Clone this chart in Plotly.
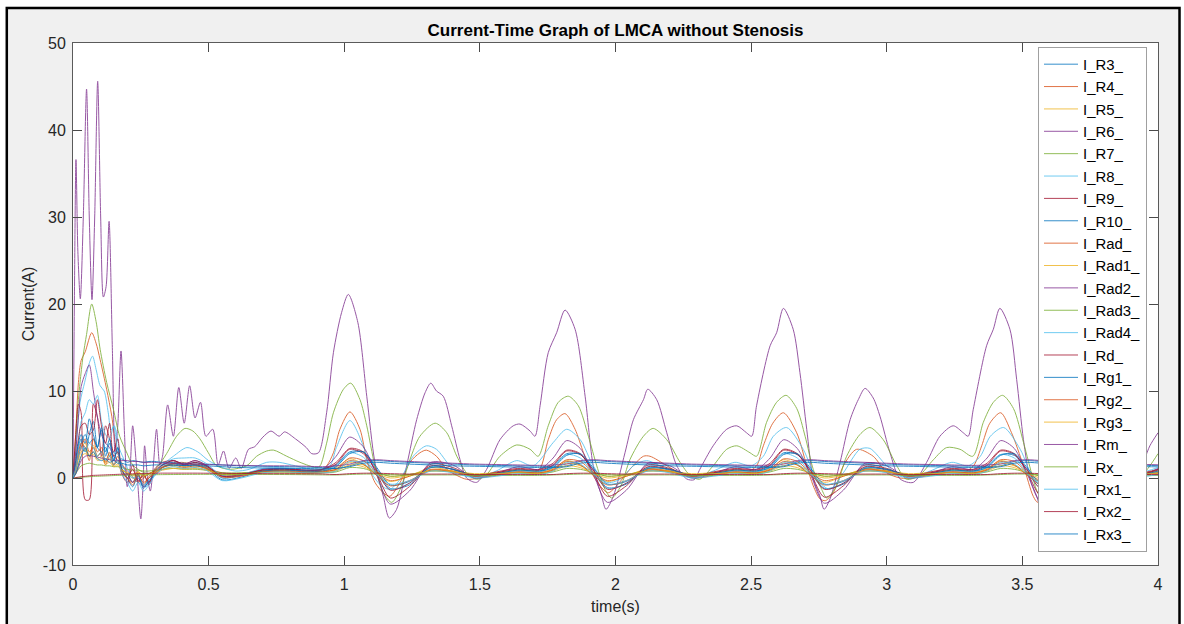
import plotly.graph_objects as go

# ---------------- data ----------------
SERIES_NAMES = ["I_R3_", "I_R4_", "I_R5_", "I_R6_", "I_R7_", "I_R8_", "I_R9_", "I_R10_",
                "I_Rad_", "I_Rad1_", "I_Rad2_", "I_Rad3_", "I_Rad4_", "I_Rd_", "I_Rg1_",
                "I_Rg2_", "I_Rg3_", "I_Rm_", "I_Rx_", "I_Rx1_", "I_Rx2_", "I_Rx3_"]

X_TICKS = [0, 0.5, 1, 1.5, 2, 2.5, 3, 3.5, 4]
X_TICK_TEXT = ["0", "0.5", "1", "1.5", "2", "2.5", "3", "3.5", "4"]
Y_TICKS = [-10, 0, 10, 20, 30, 40, 50]
Y_TICK_TEXT = ["-10", "0", "10", "20", "30", "40", "50"]

# large-amplitude series: (time s, current A)
R6_POINTS = [(0, 0), (0.005, 20), (0.011, 36.6), (0.018, 26), (0.027, 20.6), (0.038, 30), (0.05, 44.7),
             (0.06, 30), (0.07, 20.5), (0.08, 30), (0.091, 45.6), (0.102, 30), (0.112, 20.8), (0.122, 22),
             (0.133, 29.5), (0.145, 15), (0.155, 3), (0.165, 6), (0.177, 14.6), (0.19, 5), (0.2, -1),
             (0.21, 1), (0.22, 6), (0.235, 1), (0.25, -4.7), (0.258, -1), (0.264, 3.7), (0.275, 0),
             (0.285, -1.5), (0.295, 1), (0.308, 5.6), (0.32, 1.5), (0.33, 2.5), (0.349, 8.4), (0.37, 4.8),
             (0.39, 10.4), (0.41, 6.3), (0.43, 10.6), (0.45, 6.9), (0.47, 8.7), (0.49, 4.8), (0.515, 5.6),
             (0.535, 1.5), (0.555, 3.1), (0.575, 1.1), (0.6, 2.3), (0.62, 1.1), (0.647, 3.3), (0.67, 3.6),
             (0.7, 4.7), (0.73, 5.4), (0.76, 4.8), (0.78, 5.3), (0.82, 4.5), (0.86, 3.5), (0.88, 2.8),
             (0.905, 2.9), (0.935, 7.5), (0.96, 14.4), (0.99, 19.0), (1.015, 21.1), (1.05, 17.9),
             (1.083, 9.4), (1.113, 1.8), (1.144, -2.1), (1.166, -4.6), (1.193, -3.6), (1.23, 1.4),
             (1.267, 6.7), (1.298, 9.8), (1.319, 10.9), (1.34, 10.0), (1.365, 9.4), (1.396, 6.0),
             (1.427, 2.1), (1.451, 0), (1.488, -0.5), (1.525, 1.0), (1.574, 4.4), (1.623, 6.0),
             (1.648, 6.2), (1.685, 5.4), (1.703, 4.8), (1.722, 8.3), (1.752, 14.4), (1.783, 16.7),
             (1.814, 19.3), (1.851, 17.1), (1.888, 9.4), (1.918, 1.4), (1.949, -2.1), (1.965, -3.6),
             (1.992, -2.1), (2.035, 2.9), (2.066, 6.7), (2.103, 9.0), (2.119, 10.2), (2.152, 9.0),
             (2.189, 5.2), (2.226, 1.4), (2.262, -0.1), (2.29, -0.2), (2.311, 1.0), (2.36, 3.7),
             (2.41, 5.6), (2.447, 6.0), (2.483, 5.2), (2.502, 4.8), (2.52, 8.3), (2.57, 15.2),
             (2.594, 16.7), (2.619, 19.5), (2.655, 17.1), (2.68, 12.1), (2.705, 5.6), (2.729, -0.1),
             (2.754, -2.1), (2.769, -3.6), (2.791, -2.4), (2.828, 1.8), (2.865, 6.7), (2.895, 9.0),
             (2.92, 10.3), (2.95, 9.2), (2.975, 7.1), (3.012, 2.9), (3.049, -0.1), (3.098, -0.5),
             (3.147, 1.8), (3.196, 4.8), (3.245, 6.0), (3.282, 5.2), (3.3, 4.8), (3.319, 7.9),
             (3.368, 15.2), (3.393, 17.1), (3.417, 19.5), (3.454, 17.1), (3.479, 11.3), (3.504, 4.4),
             (3.528, -0.1), (3.553, -2.1), (3.57, -3.6), (3.6, -2.2), (3.64, 2.0), (3.68, 6.5),
             (3.72, 10.0), (3.76, 8.0), (3.8, 3.0), (3.85, -0.3), (3.9, -0.3), (3.95, 2.2),
             (3.97, 3.7), (4.0, 5.2)]

R7_POINTS = [(0, 0), (0.01, 4), (0.02, 9), (0.026, 11), (0.037, 14), (0.05, 16.5), (0.069, 20),
             (0.085, 18), (0.1, 14.8), (0.124, 11), (0.149, 7.9), (0.172, 4.8), (0.197, 3.0),
             (0.22, 1.5), (0.25, 0.8), (0.28, 0.5), (0.31, 1.2), (0.345, 2.8), (0.382, 4.8),
             (0.413, 5.7), (0.442, 5.4), (0.468, 4.5), (0.499, 2.9), (0.53, 1.4), (0.58, 1.0),
             (0.64, 1.4), (0.677, 2.5), (0.714, 3.1), (0.74, 3.2), (0.788, 2.5), (0.837, 1.8),
             (0.898, 1.2), (0.911, 1.4), (0.935, 4.0), (0.96, 7.5), (0.997, 10.2), (1.024, 10.9),
             (1.058, 9.0), (1.083, 6.0), (1.113, 1.4), (1.144, -1.7), (1.175, -2.8), (1.206, -1.3),
             (1.242, 2.1), (1.279, 4.8), (1.335, 6.3), (1.378, 5.2), (1.415, 2.5), (1.451, 0.6),
             (1.488, -0.15), (1.525, 0.4), (1.574, 2.5), (1.636, 3.8), (1.685, 3.3), (1.715, 2.5),
             (1.752, 6.0), (1.789, 8.7), (1.826, 9.4), (1.863, 8.3), (1.9, 4.8), (1.931, 1.4),
             (1.961, -1.3), (1.986, -2.3), (2.02, -0.9), (2.053, 2.1), (2.103, 4.8), (2.139, 5.7),
             (2.189, 4.4), (2.238, 1.8), (2.275, 0.3), (2.31, -0.15), (2.36, 1.4), (2.41, 3.3),
             (2.447, 3.7), (2.496, 2.9), (2.52, 2.5), (2.557, 6.4), (2.594, 8.7), (2.629, 9.5),
             (2.668, 8.0), (2.699, 4.8), (2.729, 1.0), (2.76, -1.3), (2.779, -2.3), (2.815, -0.9),
             (2.852, 2.5), (2.901, 5.0), (2.938, 5.8), (2.987, 4.4), (3.037, 1.4), (3.073, -0.15),
             (3.12, 0.3), (3.172, 2.1), (3.221, 3.5), (3.27, 3.3), (3.317, 2.5), (3.356, 6.4),
             (3.393, 8.7), (3.427, 9.5), (3.467, 8.0), (3.504, 4.1), (3.54, -0.15), (3.557, -1.7),
             (3.58, -2.3), (3.62, -0.5), (3.66, 2.5), (3.71, 5.0), (3.75, 5.7), (3.8, 4.3),
             (3.85, 1.4), (3.89, -0.1), (3.94, 0.3), (3.97, 1.4), (4.0, 2.8)]

R4_POINTS = [(0, 0), (0.01, 5), (0.02, 11), (0.03, 13.5), (0.045, 14.5), (0.069, 16.7), (0.085, 15.5),
             (0.1, 13.6), (0.124, 10.2), (0.143, 7.1), (0.16, 3.3), (0.185, 1.4), (0.21, 0.5),
             (0.24, -0.5), (0.27, 0.3), (0.3, 0.8), (0.35, 1.5), (0.4, 1.8), (0.45, 1.5), (0.5, 1.0),
             (0.55, 0.6), (0.6, 0.5), (0.7, 0.8), (0.8, 0.9), (0.9, 0.7), (0.935, 1.4), (0.96, 2.9),
             (0.984, 5.6), (1.021, 7.6), (1.058, 5.6), (1.083, 2.1), (1.113, -0.5), (1.144, -1.7),
             (1.168, -2.1), (1.206, -0.5), (1.242, 1.8), (1.279, 2.9), (1.303, 3.2), (1.34, 2.5),
             (1.378, 1.0), (1.415, 0.3), (1.451, -0.15), (1.5, 0.0), (1.56, 0.3), (1.62, 0.6),
             (1.68, 0.6), (1.72, 1.0), (1.752, 4.4), (1.783, 6.7), (1.814, 7.4), (1.851, 5.6),
             (1.882, 2.9), (1.912, 0.6), (1.943, -0.9), (1.973, -1.7), (2.004, -0.9), (2.053, 1.0),
             (2.103, 2.5), (2.127, 2.5), (2.19, 1.4), (2.25, 0.3), (2.3, 0.0), (2.36, 0.3), (2.42, 0.6),
             (2.48, 0.6), (2.52, 1.4), (2.545, 3.7), (2.58, 6.3), (2.619, 7.5), (2.668, 5.2),
             (2.705, 1.4), (2.729, -0.9), (2.754, -2.4), (2.774, -2.6), (2.803, -1.7), (2.84, 1.4),
             (2.889, 3.3), (2.95, 2.5), (3.0, 0.6), (3.05, 0.0), (3.1, 0.0), (3.16, 0.3), (3.22, 0.6),
             (3.28, 0.6), (3.32, 1.4), (3.35, 3.7), (3.38, 6.3), (3.42, 7.5), (3.46, 5.2), (3.504, 1.4),
             (3.54, -2.1), (3.557, -2.8), (3.6, -1.5), (3.64, 1.4), (3.69, 3.3), (3.75, 2.5),
             (3.8, 0.6), (3.88, 0.0), (3.95, 0.5), (4.0, 1.0)]

R8_POINTS = [(0, 0), (0.01, 3), (0.026, 8.7), (0.043, 11), (0.06, 13.2), (0.072, 14.0), (0.085, 12.5),
             (0.1, 10.6), (0.115, 10.0), (0.13, 7.5), (0.14, 5.5), (0.152, 6.0), (0.172, 3.3),
             (0.19, 2.0), (0.21, 0.5), (0.24, -0.5), (0.27, -1.0), (0.3, 0.5), (0.33, 1.5), (0.37, 2.5),
             (0.42, 3.5), (0.46, 3.0), (0.5, 2.0), (0.55, 1.2), (0.6, 0.8), (0.65, 1.0), (0.714, 1.8),
             (0.76, 1.8), (0.82, 1.4), (0.9, 0.9), (0.947, 1.4), (0.971, 3.5), (1.021, 6.6), (1.07, 3.7),
             (1.1, 0.6), (1.137, -0.9), (1.168, -1.3), (1.206, -0.15), (1.254, 2.5), (1.303, 3.7),
             (1.34, 3.3), (1.39, 1.4), (1.44, 0.3), (1.5, 0.2), (1.56, 0.8), (1.636, 2.0), (1.697, 1.4),
             (1.771, 4.1), (1.82, 5.6), (1.87, 4.4), (1.918, 1.4), (1.967, -0.5), (2.017, -0.15),
             (2.066, 1.4), (2.115, 2.0), (2.189, 1.0), (2.25, 0.3), (2.3, 0.2), (2.36, 0.8),
             (2.44, 1.8), (2.5, 1.4), (2.545, 2.5), (2.582, 4.8), (2.631, 5.8), (2.692, 3.3),
             (2.742, -0.15), (2.791, -1.3), (2.84, 0.6), (2.901, 3.3), (2.938, 3.4), (3.0, 1.4),
             (3.049, 0.3), (3.1, 0.2), (3.16, 0.8), (3.24, 1.8), (3.3, 1.4), (3.345, 2.5),
             (3.382, 4.8), (3.431, 5.8), (3.492, 3.3), (3.542, -0.15), (3.59, -1.3), (3.64, 0.6),
             (3.7, 3.3), (3.74, 3.4), (3.8, 1.4), (3.85, 0.3), (3.9, 0.2), (3.96, 0.8), (4.0, 1.2)]

# shared time grid for the smaller series
T_SMALL = [0, 0.01, 0.02, 0.03, 0.045, 0.06, 0.075, 0.09, 0.105, 0.12, 0.135, 0.15, 0.165, 0.18,
           0.20, 0.22, 0.24, 0.26, 0.28, 0.30, 0.33, 0.37, 0.41, 0.45, 0.49, 0.55, 0.62, 0.70,
           0.78, 0.86, 0.92,
           0.97, 1.02, 1.07, 1.12, 1.17, 1.24, 1.32, 1.40, 1.48, 1.56, 1.64, 1.72,
           1.77, 1.82, 1.87, 1.92, 1.97, 2.04, 2.12, 2.20, 2.28, 2.36, 2.44, 2.52,
           2.57, 2.62, 2.67, 2.72, 2.77, 2.84, 2.92, 3.00, 3.08, 3.16, 3.24, 3.32,
           3.37, 3.42, 3.47, 3.52, 3.57, 3.64, 3.72, 3.80, 3.88, 3.96, 4.00]

V_R3 = [0, 1.5, 3.5, 4.5, 3.0, 5.0, 6.5, 3.5, 5.5, 2.5, 4.0, 2.0, 3.5, 1.0, 0.5, -0.5, 0.5, -1.0, 0.0,
        0.5, 1.5, 1.8, 1.5, 1.8, 1.4, 0.0, 0.3, 0.9, 1.0, 0.8, 0.9,
        1.5, 3.0, 3.0, 1.0, -1.2, -0.8, 1.3, 1.0, 0.2, 0.5, 0.9, 0.8,
        1.4, 2.8, 2.7, 0.9, -1.1, -0.7, 1.2, 0.9, 0.2, 0.5, 0.9, 0.8,
        1.4, 2.9, 2.7, 0.9, -1.2, -0.7, 1.2, 0.9, 0.2, 0.5, 0.9, 0.8,
        1.4, 2.7, 2.6, 0.9, -1.0, -0.7, 1.2, 0.9, 0.2, 0.5, 0.7]
V_R5 = [0, 1.0, 2.5, 3.5, 4.0, 2.5, 3.8, 2.5, 3.0, 2.0, 2.8, 1.5, 2.0, 1.0, 0.5, 0.0, 0.8, 0.0, 0.5,
        0.8, 1.2, 1.5, 1.3, 1.4, 1.2, 0.4, 0.5, 0.8, 0.8, 0.7, 0.8,
        1.2, 2.2, 1.6, 0.3, -0.4, 0.2, 1.2, 0.8, 0.3, 0.6, 0.9, 0.7,
        1.1, 2.0, 1.5, 0.3, -0.4, 0.2, 1.1, 0.8, 0.3, 0.6, 0.9, 0.7,
        1.1, 2.1, 1.5, 0.3, -0.5, 0.2, 1.1, 0.8, 0.3, 0.6, 0.9, 0.7,
        1.1, 2.0, 1.5, 0.3, -0.4, 0.2, 1.1, 0.8, 0.3, 0.6, 0.8]
V_R9 = [0, 5.0, 8.5, 7.5, -2.5, -2.5, 8.5, 7.0, 2.5, 6.0, 4.5, 3.0, 4.5, 0.5, -0.5, 1.5, -0.5, 0.5,
        -0.8, 1.0, 1.8, 2.0, 1.6, 2.0, 1.5, 0.3, 0.4, 1.0, 1.1, 0.9, 1.0,
        1.8, 3.4, 3.0, 0.5, -2.3, -1.0, 1.6, 1.2, 0.2, 0.7, 1.1, 1.0,
        1.7, 3.2, 2.8, 0.5, -2.1, -0.9, 1.5, 1.1, 0.2, 0.7, 1.1, 1.0,
        1.7, 3.3, 2.8, 0.5, -2.2, -0.9, 1.5, 1.1, 0.2, 0.7, 1.1, 1.0,
        1.7, 3.2, 2.8, 0.5, -2.1, -0.9, 1.5, 1.1, 0.2, 0.7, 1.0]
V_R10 = [0, 1.0, 2.5, 4.0, 5.0, 4.0, 4.5, 3.5, 3.0, 3.5, 2.5, 3.0, 2.0, 2.2, 1.8, 2.0, 1.9, 1.8, 1.9,
         1.9, 1.8, 1.7, 1.7, 1.6, 1.6, 1.5, 1.4, 1.35, 1.3, 1.25, 1.2,
         1.1, 1.4, 1.9, 2.0, 1.9, 1.8, 1.7, 1.6, 1.5, 1.45, 1.4, 1.35,
         1.3, 1.4, 1.9, 2.0, 1.9, 1.8, 1.7, 1.6, 1.5, 1.45, 1.4, 1.35,
         1.3, 1.4, 1.85, 2.0, 1.9, 1.8, 1.7, 1.6, 1.5, 1.45, 1.4, 1.35,
         1.3, 1.4, 1.9, 2.0, 1.9, 1.8, 1.7, 1.6, 1.5, 1.45, 1.42]
V_RAD = [0, 1.5, 3.0, 4.0, 3.5, 2.0, 4.5, 3.0, 3.5, 1.8, 3.0, 1.5, 2.5, 0.8, 0.0, -0.5, 0.5, -0.8, 0.2,
         0.6, 1.3, 1.7, 1.4, 1.6, 1.3, 0.2, 0.3, 0.8, 0.9, 0.7, 0.8,
         1.0, 2.3, 2.0, 0.6, -0.3, 0.2, 1.0, 0.8, 0.4, 0.5, 0.7, 0.6,
         1.0, 2.1, 1.9, 0.6, -0.3, 0.2, 1.0, 0.8, 0.4, 0.5, 0.7, 0.6,
         1.0, 2.2, 1.9, 0.6, -0.3, 0.2, 1.0, 0.8, 0.4, 0.5, 0.7, 0.6,
         1.0, 2.1, 1.9, 0.6, -0.3, 0.2, 1.0, 0.8, 0.4, 0.5, 0.6]
V_RAD1 = [0, 0.8, 2.0, 3.0, 3.2, 2.5, 3.0, 2.2, 2.5, 1.8, 2.2, 1.4, 1.6, 1.0, 0.6, 0.3, 0.7, 0.2, 0.5,
          0.7, 1.0, 1.3, 1.1, 1.2, 1.0, 0.4, 0.5, 0.7, 0.7, 0.6, 0.7,
          0.9, 1.8, 1.5, 0.7, 0.2, 0.4, 0.9, 0.8, 0.5, 0.6, 0.7, 0.6,
          0.9, 1.7, 1.4, 0.7, 0.2, 0.4, 0.9, 0.8, 0.5, 0.6, 0.7, 0.6,
          0.9, 1.7, 1.5, 0.7, 0.2, 0.4, 0.9, 0.8, 0.5, 0.6, 0.7, 0.6,
          0.9, 1.7, 1.4, 0.7, 0.2, 0.4, 0.9, 0.8, 0.5, 0.6, 0.65]
V_RAD2 = [0, 3.0, 7.0, 10.5, 12.0, 13.0, 10.0, 7.0, 5.0, 4.0, 3.5, 2.5, 2.0, 1.5, 0.5, -0.5, 0.0, -1.0,
          -0.5, 0.5, 1.5, 2.0, 1.6, 2.0, 1.5, 0.2, 0.3, 1.0, 1.1, 0.9, 1.0,
          2.5, 4.7, 3.6, 0.3, -3.0, -1.5, 1.8, 1.5, 0.0, 0.5, 1.3, 1.0,
          2.3, 4.3, 3.4, 0.3, -2.8, -1.4, 1.7, 1.4, 0.0, 0.5, 1.3, 1.0,
          2.3, 4.4, 3.4, 0.3, -2.9, -1.4, 1.7, 1.4, 0.0, 0.5, 1.3, 1.0,
          2.3, 4.3, 3.4, 0.3, -2.8, -1.4, 1.7, 1.4, 0.0, 0.5, 1.1]
V_RAD3 = [0, 0.5, 1.0, 1.4, 1.6, 1.7, 1.6, 1.5, 1.5, 1.4, 1.4, 1.3, 1.3, 1.2, 1.0, 0.9, 0.9, 0.8, 0.8,
          0.9, 1.0, 1.1, 1.0, 1.0, 0.9, 0.6, 0.6, 0.7, 0.7, 0.6, 0.6,
          0.7, 1.2, 1.1, 0.6, 0.2, 0.4, 0.8, 0.7, 0.4, 0.5, 0.6, 0.5,
          0.7, 1.1, 1.0, 0.6, 0.2, 0.4, 0.8, 0.7, 0.4, 0.5, 0.6, 0.5,
          0.7, 1.1, 1.0, 0.6, 0.2, 0.4, 0.8, 0.7, 0.4, 0.5, 0.6, 0.5,
          0.7, 1.1, 1.0, 0.6, 0.2, 0.4, 0.8, 0.7, 0.4, 0.5, 0.55]
V_RAD4 = [0, 1.5, 4.0, 6.5, 7.5, 9.0, 8.5, 9.5, 6.5, 5.0, 4.5, 6.0, 3.0, 1.5, 0.5, 0.0, 0.2, -0.8,
          -0.3, 0.5, 1.5, 2.2, 2.3, 2.3, 1.7, 0.3, 0.4, 1.1, 1.2, 1.0, 1.0,
          1.4, 2.9, 2.4, 0.5, -1.3, -0.6, 1.3, 1.0, 0.1, 0.4, 0.8, 0.7,
          1.3, 2.7, 2.3, 0.5, -1.2, -0.6, 1.2, 1.0, 0.1, 0.4, 0.8, 0.7,
          1.3, 2.8, 2.3, 0.5, -1.2, -0.6, 1.2, 1.0, 0.1, 0.4, 0.8, 0.7,
          1.3, 2.7, 2.3, 0.5, -1.2, -0.6, 1.2, 1.0, 0.1, 0.4, 0.7]
V_RD = [0, 2.0, 4.5, 6.0, 6.3, 5.0, 5.5, 9.0, 6.0, 4.0, 6.3, 2.5, 3.0, 1.0, 0.0, 1.0, -0.3, 0.3, -0.5,
        0.8, 1.5, 2.0, 1.5, 1.8, 1.4, 0.2, 0.4, 0.9, 1.0, 0.9, 1.0,
        1.6, 3.3, 2.8, 0.8, -1.4, -0.6, 1.4, 1.0, 0.3, 0.6, 1.0, 0.9,
        1.5, 3.1, 2.7, 0.8, -1.3, -0.6, 1.3, 1.0, 0.3, 0.6, 1.0, 0.9,
        1.5, 3.2, 2.7, 0.8, -1.3, -0.6, 1.3, 1.0, 0.3, 0.6, 1.0, 0.9,
        1.5, 3.1, 2.7, 0.8, -1.3, -0.6, 1.3, 1.0, 0.3, 0.6, 0.9]
V_RG1 = [0, 2.0, 4.0, 5.0, 4.0, 6.8, 5.0, 3.5, 5.8, 3.0, 4.5, 2.0, 3.5, 1.0, 0.0, -1.0, 0.3, -1.2,
         -0.3, 0.3, 1.2, 1.6, 1.4, 1.5, 1.2, -0.2, 0.1, 0.8, 0.9, 0.8, 0.8,
         1.3, 2.8, 3.0, 1.2, -0.8, -0.4, 1.2, 1.0, 0.3, 0.5, 0.9, 0.8,
         1.2, 2.6, 2.8, 1.1, -0.7, -0.4, 1.1, 1.0, 0.3, 0.5, 0.9, 0.8,
         1.2, 2.7, 2.8, 1.1, -0.7, -0.4, 1.1, 1.0, 0.3, 0.5, 0.9, 0.8,
         1.2, 2.6, 2.8, 1.1, -0.7, -0.4, 1.1, 1.0, 0.3, 0.5, 0.8]
V_RG2 = [0, 1.0, 2.5, 3.5, 4.5, 3.0, 3.5, 2.5, 3.0, 1.5, 2.5, 1.5, 2.0, 0.5, 0.0, -0.8, 0.3, -0.5, 0.0,
         0.5, 1.2, 1.5, 1.2, 1.4, 1.1, 0.1, 0.2, 0.7, 0.8, 0.6, 0.7,
         1.0, 2.0, 1.6, 0.3, -0.9, -0.3, 0.9, 0.7, 0.2, 0.4, 0.7, 0.6,
         0.9, 1.9, 1.5, 0.3, -0.8, -0.3, 0.9, 0.7, 0.2, 0.4, 0.7, 0.6,
         0.9, 1.9, 1.5, 0.3, -0.8, -0.3, 0.9, 0.7, 0.2, 0.4, 0.7, 0.6,
         0.9, 1.9, 1.5, 0.3, -0.8, -0.3, 0.9, 0.7, 0.2, 0.4, 0.6]
V_RG3 = [0, 0.5, 1.5, 2.5, 2.8, 2.5, 2.7, 2.0, 2.2, 1.6, 1.8, 1.3, 1.4, 0.9, 0.6, 0.4, 0.6, 0.3, 0.5,
         0.6, 0.9, 1.1, 1.0, 1.1, 0.9, 0.4, 0.4, 0.6, 0.6, 0.5, 0.6,
         0.8, 1.5, 1.3, 0.5, 0.0, 0.3, 0.8, 0.7, 0.4, 0.5, 0.6, 0.5,
         0.8, 1.4, 1.2, 0.5, 0.0, 0.3, 0.8, 0.7, 0.4, 0.5, 0.6, 0.5,
         0.8, 1.4, 1.2, 0.5, 0.0, 0.3, 0.8, 0.7, 0.4, 0.5, 0.6, 0.5,
         0.8, 1.4, 1.2, 0.5, 0.0, 0.3, 0.8, 0.7, 0.4, 0.5, 0.55]
V_RM = [0, 0.5, 1.2, 2.0, 2.5, 2.6, 2.5, 2.4, 2.3, 2.2, 2.1, 2.0, 2.0, 2.0, 2.0, 1.9, 1.9, 1.8, 1.8,
        1.8, 1.7, 1.7, 1.6, 1.6, 1.55, 1.5, 1.45, 1.4, 1.4, 1.35, 1.3,
        1.4, 1.6, 2.0, 2.1, 2.0, 1.9, 1.8, 1.7, 1.6, 1.55, 1.5, 1.45,
        1.5, 1.6, 2.0, 2.1, 2.0, 1.9, 1.8, 1.7, 1.6, 1.55, 1.5, 1.45,
        1.5, 1.6, 2.0, 2.1, 2.0, 1.9, 1.8, 1.7, 1.6, 1.55, 1.5, 1.45,
        1.5, 1.6, 2.0, 2.1, 2.0, 1.9, 1.8, 1.7, 1.6, 1.55, 1.52]
V_RX = [0, 0.02, 0.05, 0.08, 0.12, 0.15, 0.18, 0.2, 0.22, 0.24, 0.26, 0.28, 0.3, 0.31, 0.33, 0.34, 0.35,
        0.36, 0.37, 0.38, 0.39, 0.4, 0.41, 0.42, 0.42, 0.42, 0.42, 0.41, 0.4, 0.38, 0.36,
        0.35, 0.4, 0.45, 0.45, 0.4, 0.35, 0.35, 0.35, 0.3, 0.3, 0.3, 0.3,
        0.35, 0.4, 0.45, 0.45, 0.4, 0.35, 0.35, 0.35, 0.3, 0.3, 0.3, 0.3,
        0.35, 0.4, 0.45, 0.45, 0.4, 0.35, 0.35, 0.35, 0.3, 0.3, 0.3, 0.3,
        0.35, 0.4, 0.45, 0.45, 0.4, 0.35, 0.35, 0.35, 0.3, 0.3, 0.3]
V_RX1 = [0, 1.0, 2.5, 3.5, 3.0, 4.0, 3.5, 2.5, 3.0, 2.0, 2.5, 1.5, 2.0, 0.5, -0.5, -1.5, -0.5, -1.5,
         -0.8, 0.2, 1.0, 1.3, 1.1, 1.2, 0.9, -0.3, 0.0, 0.6, 0.7, 0.6, 0.6,
         0.8, 1.9, 1.7, 0.4, -0.7, -0.3, 0.8, 0.6, 0.0, 0.2, 0.5, 0.4,
         0.8, 1.8, 1.6, 0.4, -0.7, -0.3, 0.8, 0.6, 0.0, 0.2, 0.5, 0.4,
         0.8, 1.8, 1.6, 0.4, -0.7, -0.3, 0.8, 0.6, 0.0, 0.2, 0.5, 0.4,
         0.8, 1.8, 1.6, 0.4, -0.7, -0.3, 0.8, 0.6, 0.0, 0.2, 0.4]
V_RX2 = [0, 0.05, 0.1, 0.15, 0.2, 0.25, 0.3, 0.32, 0.34, 0.36, 0.38, 0.4, 0.42, 0.44, 0.46, 0.48, 0.5,
         0.52, 0.54, 0.55, 0.56, 0.56, 0.56, 0.56, 0.55, 0.54, 0.52, 0.5, 0.5, 0.48, 0.46,
         0.4, 0.5, 0.55, 0.55, 0.5, 0.45, 0.45, 0.45, 0.4, 0.4, 0.4, 0.4,
         0.4, 0.5, 0.55, 0.55, 0.5, 0.45, 0.45, 0.45, 0.4, 0.4, 0.4, 0.4,
         0.4, 0.5, 0.55, 0.55, 0.5, 0.45, 0.45, 0.45, 0.4, 0.4, 0.4, 0.4,
         0.4, 0.5, 0.55, 0.55, 0.5, 0.45, 0.45, 0.45, 0.4, 0.4, 0.4]
V_RX3 = [0, 0.5, 1.5, 2.5, 3.5, 2.5, 3.0, 2.2, 2.0, 2.2, 1.8, 2.0, 1.7, 1.7, 1.5, 1.5, 1.5, 1.4, 1.45,
         1.5, 1.5, 1.45, 1.45, 1.4, 1.4, 1.3, 1.2, 1.15, 1.1, 1.1, 1.05,
         1.1, 1.3, 1.7, 1.8, 1.7, 1.6, 1.5, 1.4, 1.35, 1.3, 1.25, 1.2,
         1.2, 1.3, 1.7, 1.8, 1.7, 1.6, 1.5, 1.4, 1.35, 1.3, 1.25, 1.2,
         1.2, 1.3, 1.7, 1.8, 1.7, 1.6, 1.5, 1.4, 1.35, 1.3, 1.25, 1.2,
         1.2, 1.3, 1.7, 1.8, 1.7, 1.6, 1.5, 1.4, 1.35, 1.3, 1.28]

# MATLAB default colour order
COLOR_ORDER = ["#0072BD", "#D95319", "#EDB120", "#7E2F8E", "#77AC30", "#4DBEEE", "#A2142F"]

# ---------------- figure ----------------
def split(points):
    return [p[0] for p in points], [p[1] for p in points]

series_xy = {
    "I_R3_": (T_SMALL, V_R3), "I_R4_": split(R4_POINTS), "I_R5_": (T_SMALL, V_R5),
    "I_R6_": split(R6_POINTS), "I_R7_": split(R7_POINTS), "I_R8_": split(R8_POINTS),
    "I_R9_": (T_SMALL, V_R9), "I_R10_": (T_SMALL, V_R10), "I_Rad_": (T_SMALL, V_RAD),
    "I_Rad1_": (T_SMALL, V_RAD1), "I_Rad2_": (T_SMALL, V_RAD2), "I_Rad3_": (T_SMALL, V_RAD3),
    "I_Rad4_": (T_SMALL, V_RAD4), "I_Rd_": (T_SMALL, V_RD), "I_Rg1_": (T_SMALL, V_RG1),
    "I_Rg2_": (T_SMALL, V_RG2), "I_Rg3_": (T_SMALL, V_RG3), "I_Rm_": (T_SMALL, V_RM),
    "I_Rx_": (T_SMALL, V_RX), "I_Rx1_": (T_SMALL, V_RX1), "I_Rx2_": (T_SMALL, V_RX2),
    "I_Rx3_": (T_SMALL, V_RX3),
}

fig = go.Figure()
for i, name in enumerate(SERIES_NAMES):
    xs, ys = series_xy[name]
    assert len(xs) == len(ys), name
    fig.add_trace(go.Scatter(
        x=xs, y=ys, name=name, mode="lines", opacity=0.8,
        line=dict(color=COLOR_ORDER[i % 7], width=1, shape="spline", smoothing=0.8),
        hoverinfo="skip"))

# pixel helpers for the decorative frame (plot area: x 73..1158, y 43..565)
L, R, T, B = 73, 1158, 43, 565
def px(x):
    return (x - L) / (R - L)
def py(y):
    return (B - y) / (B - T)

FONT = "Liberation Sans, Arial, Helvetica, sans-serif"
AX = dict(showgrid=False, zeroline=False, showline=True, linecolor="#5a5a5a", linewidth=1,
          ticks="inside", ticklen=9, tickwidth=1, tickcolor="#4a4a4a", mirror="ticks",
          tickfont=dict(family=FONT, size=16, color="#262626"))

fig.update_layout(
    width=1184, height=624,
    paper_bgcolor="#f0f0f0", plot_bgcolor="white",
    margin=dict(l=L, r=1184 - R, t=T, b=624 - B, autoexpand=False),
    title=dict(text="<b>Current-Time Graph of LMCA without Stenosis</b>",
               font=dict(family=FONT, size=17, color="black"),
               x=0.5, xref="paper", xanchor="center",
               y=1 - 30 / 624, yref="container", yanchor="middle"),
    xaxis=dict(range=[0, 4], tickvals=X_TICKS, ticktext=X_TICK_TEXT, ticklabelstandoff=5,
               title=dict(text="time(s)", font=dict(family=FONT, size=16, color="#262626"),
                          standoff=8), **AX),
    yaxis=dict(range=[-10, 50], tickvals=Y_TICKS, ticktext=Y_TICK_TEXT, ticklabelstandoff=3,
               title=dict(text="Current(A)", font=dict(family=FONT, size=16, color="#262626"),
                          standoff=4), **AX),
    legend=dict(x=px(1038), y=py(47), xanchor="left", yanchor="top",
                bgcolor="white", bordercolor="#a0a0a0", borderwidth=1,
                font=dict(family=FONT, size=14.9, color="black"),
                itemwidth=34, tracegroupgap=0),
    showlegend=True,
    shapes=[
        dict(type="rect", xref="paper", yref="paper", x0=px(-5), x1=px(5.5), y0=py(640), y1=py(-5),
             fillcolor="white", line=dict(width=0), layer="above"),
        dict(type="rect", xref="paper", yref="paper", x0=px(-5), x1=px(1190), y0=py(6.5), y1=py(-5),
             fillcolor="white", line=dict(width=0), layer="above"),
        dict(type="rect", xref="paper", yref="paper", x0=px(1181), x1=px(1190), y0=py(640), y1=py(-5),
             fillcolor="white", line=dict(width=0), layer="above"),
        dict(type="rect", xref="paper", yref="paper", x0=px(6.8), x1=px(1179.5), y0=py(640), y1=py(8),
             fillcolor="rgba(0,0,0,0)", line=dict(color="black", width=2.5), layer="above"),
    ],
)

fig.write_html("out.html", config={"displayModeBar": False},
               post_script="document.body.style.margin='0';document.body.style.padding='0';")
